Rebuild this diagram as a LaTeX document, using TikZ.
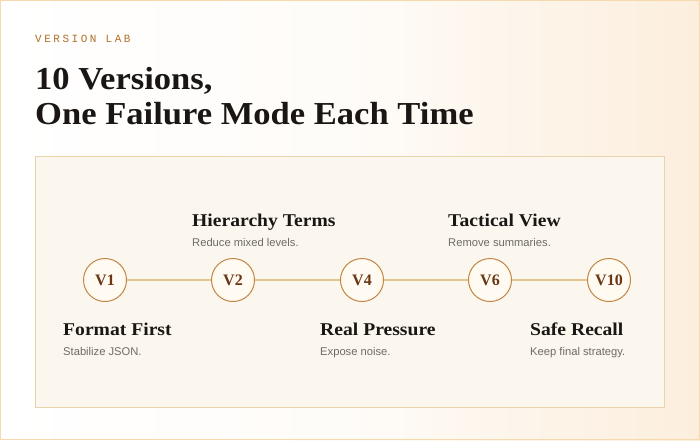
\documentclass[tikz,border=0pt]{standalone}
\usepackage{fontspec}
\setmainfont{Liberation Serif}
\setsansfont{Liberation Sans}
\setmonofont{Liberation Mono}
\newfontfamily\labfont[LetterSpace=23]{Liberation Mono}
\definecolor{pageedge}{HTML}{F7D9AE}
\definecolor{peach}{HTML}{FCEEDD}
\definecolor{panelfill}{HTML}{FCF7EE}
\definecolor{paneledge}{HTML}{EAD2AA}
\definecolor{kicker}{HTML}{B0702A}
\definecolor{ink}{HTML}{1A1614}
\definecolor{muted}{HTML}{6E6A66}
\definecolor{ringc}{HTML}{C28542}
\definecolor{linkc}{HTML}{E3C594}
\definecolor{vtext}{HTML}{6A3614}
\definecolor{ringfill}{HTML}{FFFAF2}
\tikzset{
  verring/.style={circle, draw=ringc, line width=1pt, fill=ringfill, minimum size=43pt, inner sep=0pt,
    font=\fontsize{16}{16}\selectfont\bfseries, text=vtext},
  link/.style={draw=linkc, line width=1.4pt},
  steptitle/.style={anchor=base west, inner sep=0pt, font=\fontsize{18}{20}\selectfont\bfseries, text=ink, xscale=1.09},
  stepdesc/.style={anchor=base west, inner sep=0pt, font=\sffamily\fontsize{11.2}{13}\selectfont, text=muted},
  headline/.style={anchor=base west, inner sep=0pt, text=ink, font=\fontsize{32}{35}\selectfont\bfseries, xscale=1.08},
}
\begin{document}
\begin{tikzpicture}[x=1pt,y=-1pt]
\useasboundingbox (0,0) rectangle (700,440);
\shade[left color=white, right color=peach, middle color=white!80!peach] (0,0) rectangle (700,440);
\draw[pageedge, line width=1.2pt] (0.6,0.6) rectangle (699.4,439.4);
\node[anchor=base west, inner sep=0pt, text=kicker, font=\labfont\fontsize{11}{11}\selectfont] (kick) at (35,42) {VERSION LAB};
\node[headline] (t1) at (35,89) {10 Versions,};
\node[headline] (t2) at (35,124) {One Failure Mode Each Time};
\draw[paneledge, fill=panelfill, line width=1pt] (35.5,156.5) rectangle (664.5,407.5);
\node[verring] (v1) at (105,280) {V1};
\node[verring] (v2) at (233,280) {V2};
\node[verring] (v4) at (362,280) {V4};
\node[verring] (v6) at (490,280) {V6};
\node[verring] (v10) at (609,280) {V10};
\draw[link] (v1) -- (v2);
\draw[link] (v2) -- (v4);
\draw[link] (v4) -- (v6);
\draw[link] (v6) -- (v10);
\node[steptitle] (h2) at (192,226) {Hierarchy Terms};
\node[stepdesc] (d2) at (192,246) {Reduce mixed levels.};
\node[steptitle] (h6) at (448,226) {Tactical View};
\node[stepdesc] (d6) at (448,246) {Remove summaries.};
\node[steptitle] (h1) at (63,335) {Format First};
\node[stepdesc] (d1) at (63,355) {Stabilize JSON.};
\node[steptitle] (h4) at (320,335) {Real Pressure};
\node[stepdesc] (d4) at (320,355) {Expose noise.};
\node[steptitle] (h10) at (530,335) {Safe Recall};
\node[stepdesc] (d10) at (530,355) {Keep final strategy.};
\end{tikzpicture}
\end{document}
